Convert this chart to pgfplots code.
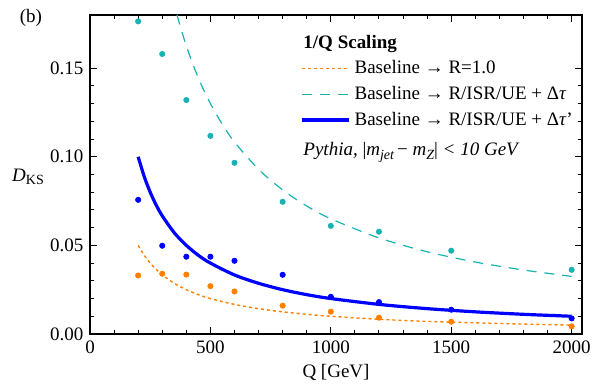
\documentclass[border=0pt]{standalone}
\usepackage{fontspec}
\setmainfont{Liberation Serif}
\usepackage{pgfplots}
\pgfplotsset{compat=1.18}
\definecolor{cOr}{rgb}{1,0.5,0}
\definecolor{cTe}{rgb}{0.1,0.7,0.7}
\definecolor{cBl}{rgb}{0,0,1}
\begin{document}
\fontsize{9.5}{11}\selectfont
\begin{tikzpicture}
\begin{axis}[
  scale only axis, width=246pt, height=159.5pt,
  xmin=0, xmax=2043, ymin=0, ymax=0.18,
  xtick={0,500,1000,1500,2000}, minor x tick num=4,
  ytick={0,0.05,0.10,0.15}, minor y tick num=4,
  tick align=inside, major tick length=3.5pt, minor tick length=2pt,
  axis line style={line width=0.6pt},
  every tick/.style={black, line width=0.5pt},
  every tick label/.append style={font=\rmfamily\fontsize{9.5}{11}\selectfont},
  /pgf/number format/assume math mode=true,
  /pgf/number format/set thousands separator={},
  yticklabel style={/pgf/number format/fixed, /pgf/number format/fixed zerofill, /pgf/number format/precision=2},
  scaled y ticks=false,
  xlabel={Q [GeV]},
  xlabel style={at={(rel axis cs:0.5,0)}, anchor=base, yshift=-22pt},
  ylabel={\textit{D}\raisebox{-0.35ex}{\fontsize{7}{8}\selectfont KS}},
  ylabel style={rotate=-90, at={(rel axis cs:0,0.5)}, anchor=center, xshift=-31pt, yshift=-1.2pt},
  clip mode=individual,
  legend image code/.code={\draw[#1] (0pt,0pt) -- (23.5pt,0pt);},
  legend style={draw=none, fill=none, inner sep=0pt, at={(rel axis cs:0.4268,0.8674)}, anchor=north west,
    nodes={inner sep=1.5pt}, row sep=1.8pt, column sep=0.5pt,
    font=\rmfamily\fontsize{9.5}{11}\selectfont},
  legend cell align=left,
]
\addplot[cOr, line width=0.7pt, dash pattern=on 1.5pt off 1.5pt, smooth] coordinates {
(200,0.0500)(225,0.0444)(250,0.0400)(275,0.0364)(300,0.0333)(350,0.0286)(400,0.0250)(450,0.0222)(500,0.0200)(600,0.0167)(700,0.0143)(800,0.0125)(900,0.0111)(1000,0.0100)(1200,0.0083)(1400,0.0071)(1600,0.0063)(1800,0.0056)(2000,0.0050)};
\addlegendentry{Baseline → R=1.0}
\addplot[cTe, line width=0.6pt, dash pattern=on 5pt off 4pt, smooth] coordinates {
(361,0.1801)(400,0.1625)(450,0.1444)(500,0.1300)(550,0.1182)(600,0.1083)(700,0.0929)(800,0.0813)(900,0.0722)(1000,0.0650)(1200,0.0542)(1400,0.0464)(1600,0.0406)(1800,0.0361)(2000,0.0325)};
\addlegendentry{Baseline → R/ISR/UE + Δ\textit{τ}}
\addplot[cBl, line width=1.6pt, smooth] coordinates {
(200,0.1000)(225,0.0889)(250,0.0800)(275,0.0727)(300,0.0667)(350,0.0571)(400,0.0500)(450,0.0444)(500,0.0400)(600,0.0333)(700,0.0286)(800,0.0250)(900,0.0222)(1000,0.0200)(1200,0.0167)(1400,0.0143)(1600,0.0125)(1800,0.0111)(2000,0.0100)};
\addlegendentry{Baseline → R/ISR/UE + Δ\textit{τ}'}
\addplot[only marks, mark=*, mark size=1.3pt, cOr, forget plot] coordinates {
(200,0.033)(300,0.034)(400,0.0335)(500,0.027)(600,0.024)(800,0.016)(1000,0.0126)(1200,0.0092)(1500,0.0069)(2000,0.0043)};
\addplot[only marks, mark=*, mark size=1.3pt, cBl, forget plot] coordinates {
(200,0.0757)(300,0.0498)(400,0.0436)(500,0.0436)(600,0.0413)(800,0.0334)(1000,0.021)(1200,0.018)(1500,0.0137)(2000,0.0088)};
\addplot[only marks, mark=*, mark size=1.3pt, cTe, forget plot] coordinates {
(200,0.1764)(300,0.158)(400,0.132)(500,0.1118)(600,0.0966)(800,0.0746)(1000,0.061)(1200,0.0577)(1500,0.047)(2000,0.0362)};
\node[anchor=base west, inner sep=0pt] at (rel axis cs:0.433,0.895) {\textbf{1/Q Scaling}};
\node[anchor=base west, inner sep=0pt] at (rel axis cs:0.433,0.558) {\itshape Pythia, \upshape|\itshape m\raisebox{-0.4ex}{\fontsize{7}{8}\selectfont jet}\,\upshape−\itshape\ m\raisebox{-0.4ex}{\fontsize{7}{8}\selectfont Z}\upshape|\itshape\ < 10 GeV};
\node[inner sep=0pt] at (rel axis cs:-0.12,0.99) {(b)};
\path (rel axis cs:-0.18293,-0.16301) rectangle (rel axis cs:1.04268,1.04702);
\end{axis}
\end{tikzpicture}
\end{document}
